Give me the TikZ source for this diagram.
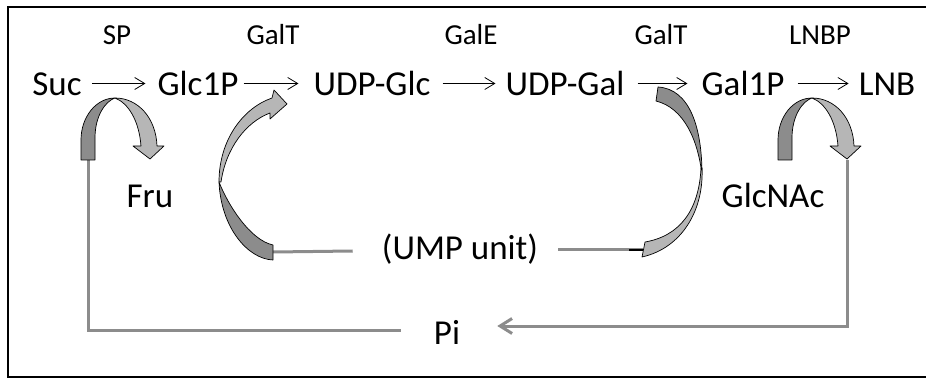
\documentclass[tikz,border=0pt]{standalone}
\usepackage{fontspec}
\setmainfont{Carlito}
\usetikzlibrary{arrows.meta}
\definecolor{bandDark}{RGB}{140,140,140}
\definecolor{bandLight}{RGB}{182,182,182}
\definecolor{wireGray}{RGB}{140,140,140}
\begin{document}
\begin{tikzpicture}[x=1pt,y=-1pt,
  chem/.style={font=\fontsize{35}{40}\selectfont, inner sep=0pt, anchor=base},
  enz/.style={font=\fontsize{29}{34}\selectfont, inner sep=0pt, anchor=base},
  rx/.style={draw=black, line width=0.8pt, -{Straight Barb[length=10pt,width=12pt]}},
  wire/.style={draw=wireGray, line width=3pt},
  band/.style={draw=black, line width=0.7pt, line join=round},
]
\useasboundingbox (0,0) rectangle (926,379);
% frame
\draw[line width=1.3pt] (940,7) -- (8,7) -- (8,377) -- (940,377);

% enzymes
\node[enz] (sp)    at (117,45) {SP};
\node[enz] (galt1) at (273,45) {GalT};
\node[enz] (gale)  at (471,45) {GalE};
\node[enz] (galt2) at (661,45) {GalT};
\node[enz] (lnbp)  at (820,45) {LNBP};

% metabolites
\node[chem] (suc)    at (57,96)  {Suc};
\node[chem] (glc)    at (198,96) {Glc1P};
\node[chem] (udpglc) at (372,96) {UDP-Glc};
\node[chem] (udpgal) at (565,96) {UDP-Gal};
\node[chem] (gal)    at (743,96) {Gal1P};
\node[chem] (lnb)    at (887,96) {LNB};
\node[chem] (fru)    at (150,208) {Fru};
\node[chem] (glcnac) at (773,208) {GlcNAc};
\node[chem] (ump)    at (460,260) {(UMP unit)};
\node[chem] (pi)     at (447,344) {Pi};

% reaction arrows
\draw[rx] ([shift={(10pt,12.5pt)}]suc.base east) -- ([shift={(-12pt,12.5pt)}]glc.base west);
\draw[rx] ([shift={(5pt,12.5pt)}]glc.base east) -- ([shift={(-15pt,12.5pt)}]udpglc.base west);
\draw[rx] ([shift={(12pt,12.5pt)}]udpglc.base east) -- ([shift={(-10pt,12.5pt)}]udpgal.base west);
\draw[rx] ([shift={(13pt,12.5pt)}]udpgal.base east) -- ([shift={(-14pt,12.5pt)}]gal.base west);
\draw[rx] ([shift={(13pt,12.5pt)}]gal.base east) -- ([shift={(-10pt,12.5pt)}]lnb.base west);

% anchor points on the curved arrows
\coordinate (spfoot)    at (88,160);
\coordinate (lnbptip)   at (847,160);
\coordinate (galtAtail) at (273,252);
\coordinate (galtBend)  at (643,250);

% phosphate and UMP recycling lines
\draw[wire] (spfoot) |- ([shift={(-33pt,14pt)}]pi.base west);
\draw[wire, -{Straight Barb[length=12pt,width=15pt]}] (lnbptip) |- ([shift={(37pt,18pt)}]pi.base east);
\draw[wire] (galtAtail) -- ([shift={(-29pt,9pt)}]ump.base west);
\draw[wire] ([shift={(20pt,10pt)}]ump.base east) -- (galtBend);
\draw[line width=2pt] ([xshift=-14pt]galtBend) -- (galtBend);

% U-turn arrows (SP and LNBP)
\foreach \dx in {0,697}{
  \begin{scope}[xshift=\dx pt]
    \filldraw[band, fill=bandDark] (81,160) -- (81,140) .. controls (81,117) and (96,98) .. (115,98)
      .. controls (106,101) and (95,115) .. (95,138) -- (95,160) -- cycle;
    \filldraw[band, fill=bandLight] (115,98) .. controls (138,98) and (156,118) .. (157,146)
      -- (164,146) -- (150,159) -- (133,146) -- (141,146)
      .. controls (139,120) and (128,103) .. (115,98) -- cycle;
  \end{scope}
}

% GalT arc from UMP to UDP-Glc
\filldraw[band, fill=bandDark] (273,260) .. controls (248,259) and (221,228) .. (219,182)
  .. controls (228,205) and (250,240) .. (273,245) -- cycle;
\filldraw[band, fill=bandLight] (219,182) .. controls (219,140) and (243,108) .. (272,98)
  -- (274,90) -- (287,104) -- (270,119) -- (270,113)
  .. controls (246,122) and (226,148) .. (221,182) -- cycle;

% GalT arc from UDP-Gal to UMP
\filldraw[band, fill=bandDark] (658,87) .. controls (690,89) and (702,128) .. (702,175)
  .. controls (698,140) and (684,108) .. (656,101) -- cycle;
\filldraw[band, fill=bandLight] (702,168) .. controls (704,210) and (682,248) .. (642,257)
  -- (645,242) .. controls (680,236) and (699,210) .. (701,168) -- cycle;
\end{tikzpicture}
\end{document}
